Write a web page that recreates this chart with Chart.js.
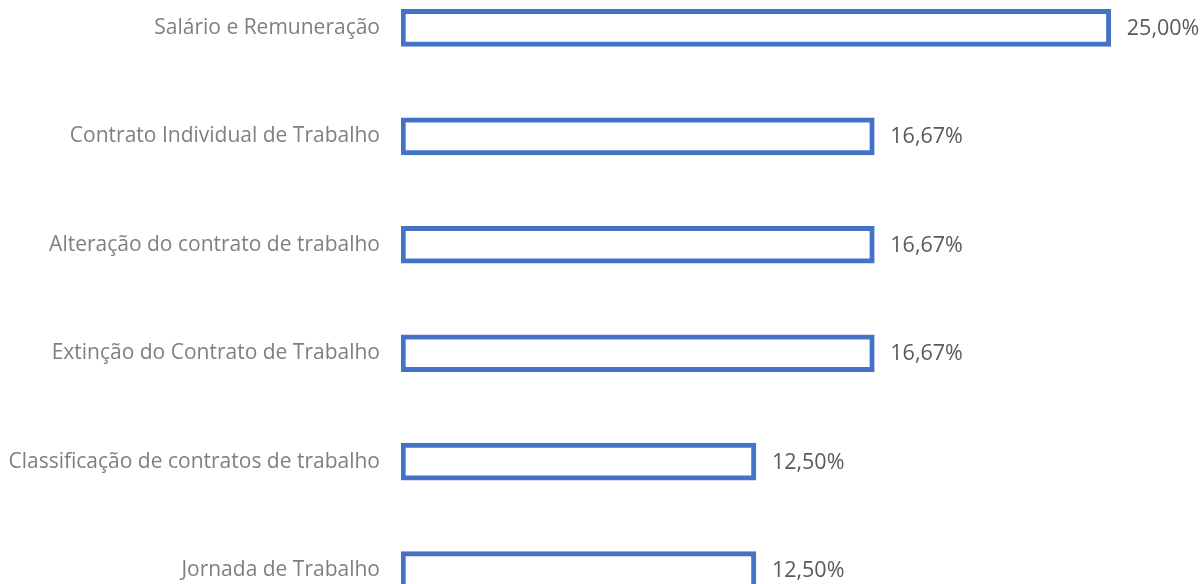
<!DOCTYPE html>
<html>
<head>
<meta charset="utf-8">
<script src="https://cdn.jsdelivr.net/npm/chart.js@4"></script>
<style>
  html, body { margin: 0; padding: 0; background: #ffffff; overflow: hidden; }
  body { width: 1201px; height: 584px; position: relative; }
  #wrap { position: absolute; left: 0; top: -60px; width: 1201px; height: 718px; }
</style>
</head>
<body>
<div id="wrap"><canvas id="c"></canvas></div>
<script>
const categories = [
  "Salário e Remuneração",
  "Contrato Individual de Trabalho",
  "Alteração do contrato de trabalho",
  "Extinção do Contrato de Trabalho",
  "Classificação de contratos de trabalho",
  "Jornada de Trabalho"
];
const values = [25.00, 16.67, 16.67, 16.67, 12.50, 12.50];

const FONT = "'Open Sans', 'Noto Sans', sans-serif";

const valueLabels = {
  id: 'valueLabels',
  afterDatasetsDraw(chart) {
    const ctx = chart.ctx;
    const meta = chart.getDatasetMeta(0);
    ctx.save();
    ctx.font = "21.5px " + FONT;
    ctx.fillStyle = "#595959";
    ctx.textAlign = "left";
    ctx.textBaseline = "middle";
    meta.data.forEach((bar, i) => {
      const v = chart.data.datasets[0].data[i];
      const txt = v.toFixed(2).replace('.', ',') + '%';
      ctx.fillText(txt, bar.x + 16, bar.y + 1);
    });
    ctx.restore();
  }
};

new Chart(document.getElementById('c'), {
  type: 'bar',
  data: {
    labels: categories,
    datasets: [{
      data: values,
      backgroundColor: '#ffffff',
      borderColor: '#4472C4',
      borderWidth: 5,
      borderSkipped: false,
      barThickness: 37
    }]
  },
  options: {
    indexAxis: 'y',
    responsive: true,
    maintainAspectRatio: false,
    animation: false,
    layout: { padding: { left: 0, right: 5, top: 0, bottom: 0 } },
    plugins: {
      legend: { display: false },
      tooltip: { enabled: false }
    },
    scales: {
      x: {
        display: false,
        min: 0,
        max: 28
      },
      y: {
        grid: { display: false, drawTicks: false },
        border: { display: false },
        ticks: {
          color: '#7f7f7f',
          font: { family: FONT, size: 21 },
          padding: 21
        },
        afterFit(scale) { scale.width = 401; }
      }
    }
  },
  plugins: [valueLabels]
});
</script>
</body>
</html>
